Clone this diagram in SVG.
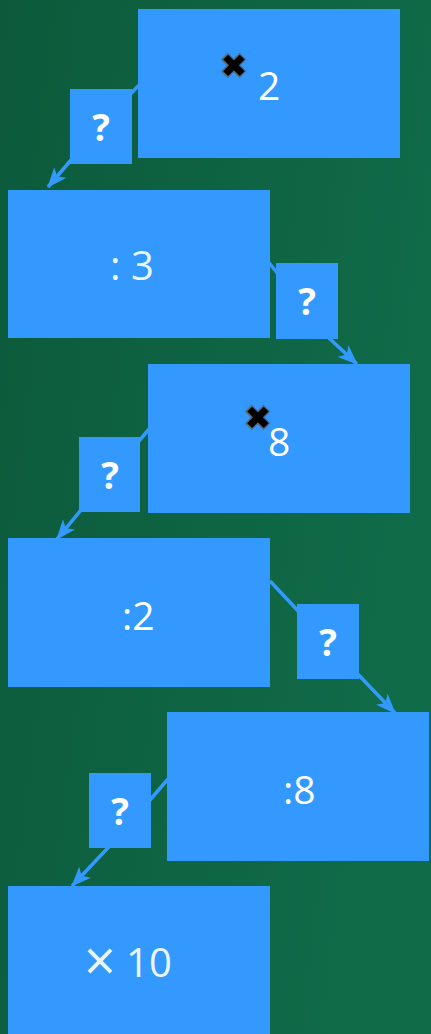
<svg xmlns="http://www.w3.org/2000/svg" width="431" height="1034" viewBox="0 0 431 1034">
<defs>
<linearGradient id="bg" x1="0" y1="0" x2="1" y2="0.3">
<stop offset="0" stop-color="#0c5a3b"/>
<stop offset="0.6" stop-color="#0e6443"/>
<stop offset="1" stop-color="#106b49"/>
</linearGradient>
<marker id="ah" markerWidth="20" markerHeight="16" refX="19" refY="8" orient="auto" markerUnits="userSpaceOnUse">
<path d="M0,0 L20,8 L0,16 L5,8 Z" fill="#3399ff"/>
</marker>
<style>
.box{fill:#3399ff;}
.q{font-family:"Open Sans",sans-serif;font-weight:bold;font-size:37px;fill:#ffffff;text-anchor:middle;}
.t{font-family:"Open Sans",sans-serif;font-size:39px;fill:#ffffff;}
.p{font-family:"Open Sans",sans-serif;font-size:40px;fill:#eaf6f6;}
.x{font-family:"DejaVu Sans",sans-serif;font-size:32px;fill:#000000;stroke:#4f6f8f;stroke-width:3;paint-order:stroke;text-anchor:middle;}
.c{fill:none;stroke:#3399ff;stroke-width:3.5;marker-end:url(#ah);}
</style>
</defs>
<rect width="431" height="1034" fill="url(#bg)"/>
<g id="connectors">
<path class="c" d="M142,82 L100,126 L48,187"/>
<path class="c" d="M266,259 L330,339 L357,364"/>
<path class="c" d="M150,428 L110,475 L57,539"/>
<path class="c" d="M270,581 L330,645 L395,713"/>
<path class="c" d="M168,779 L120,835 L72,886"/>
</g>
<g id="n1"><rect class="box" x="138" y="9" width="262" height="149"/><text class="x" x="234" y="77">✖</text><text class="t" x="258" y="100">2</text></g>
<g id="q1"><rect class="box" x="70" y="89" width="62" height="75"/><text class="q" x="101" y="141">?</text></g>
<g id="n2"><rect class="box" x="8" y="190" width="262" height="148"/><text class="p" x="110" y="280">: 3</text></g>
<g id="q2"><rect class="box" x="276" y="263" width="62" height="76"/><text class="q" x="307" y="315">?</text></g>
<g id="n3"><rect class="box" x="148" y="364" width="262" height="149"/><text class="x" x="258" y="429">✖</text><text class="t" x="268" y="456" font-size="42">8</text></g>
<g id="q3"><rect class="box" x="79" y="437" width="61" height="75"/><text class="q" x="110" y="489">?</text></g>
<g id="n4"><rect class="box" x="8" y="538" width="262" height="149"/><text class="t" x="122" y="630">:2</text></g>
<g id="q4"><rect class="box" x="297" y="604" width="62" height="75"/><text class="q" x="328" y="656">?</text></g>
<g id="n5"><rect class="box" x="167" y="712" width="262" height="149"/><text class="t" x="283" y="804" font-size="37">:8</text></g>
<g id="q5"><rect class="box" x="89" y="773" width="62" height="75"/><text class="q" x="120" y="825">?</text></g>
<g id="n6"><rect class="box" x="8" y="886" width="262" height="150"/><text class="p" x="84" y="977" font-size="47"><tspan font-size="56" dy="4">×</tspan><tspan dx="10" dy="-4">10</tspan></text></g>
</svg>
